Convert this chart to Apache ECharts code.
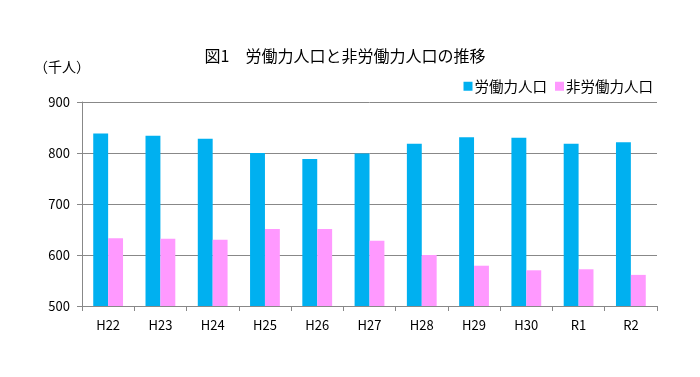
<!DOCTYPE html>
<html>
<head>
<meta charset="utf-8">
<script src="https://cdn.jsdelivr.net/npm/echarts@6/dist/echarts.min.js"></script>
<style>
  html, body { margin: 0; padding: 0; background: #fff; }
  #container { width: 700px; height: 377px; }
</style>
</head>
<body>
<div id="container"></div>
<script>
const years = ['H22', 'H23', 'H24', 'H25', 'H26', 'H27', 'H28', 'H29', 'H30', 'R1', 'R2'];
const labour = [838, 834, 828, 800, 788, 799, 818, 831, 830, 818, 821];
const nonLabour = [633, 632, 630, 651, 651, 628, 600, 579, 570, 572, 561];
const yTicks = [500, 600, 700, 800, 900];

const font = '"Noto Sans CJK JP", "Noto Sans", sans-serif';
const myChart = echarts.init(document.getElementById('container'));
const option = {
    animation: false,
    textStyle: { fontFamily: font },
    color: ['#00B0F0', '#FF99FF'],
    title: [
        {
            text: '図1　労働力人口と非労働力人口の推移',
            left: 340,
            textAlign: 'center',
            top: 43,
            textStyle: { fontSize: 16, fontWeight: 'normal', color: '#000', fontFamily: font }
        },
        {
            text: '（千人）',
            left: 29,
            top: 55,
            textStyle: { fontSize: 14, fontWeight: 'normal', color: '#000', fontFamily: font }
        }
    ],
    legend: {
        right: 42,
        top: 74,
        icon: 'rect',
        itemWidth: 9,
        itemHeight: 9,
        itemGap: 8,
        textStyle: { fontSize: 14.5, color: '#000', padding: [0, 0, 0, -3] },
        data: ['労働力人口', '非労働力人口']
    },
    grid: { left: 82, right: 43, top: 102, bottom: 71 },
    xAxis: {
        type: 'category',
        data: years,
        axisLine: { lineStyle: { color: '#888', width: 1 } },
        axisTick: { show: true, length: 5, lineStyle: { color: '#888' } },
        axisLabel: { color: '#000', fontSize: 13, margin: 13 }
    },
    yAxis: {
        type: 'value',
        min: yTicks[0],
        max: yTicks[yTicks.length - 1],
        interval: 100,
        axisLine: { show: true, lineStyle: { color: '#888', width: 1 } },
        axisTick: { show: true, length: 5, lineStyle: { color: '#888' } },
        axisLabel: { color: '#000', fontSize: 13, margin: 12 },
        splitLine: { lineStyle: { color: '#888', width: 1 } }
    },
    series: [
        {
            name: '労働力人口',
            type: 'bar',
            data: labour,
            barGap: '0%',
            barCategoryGap: '43%'
        },
        {
            name: '非労働力人口',
            type: 'bar',
            data: nonLabour,
            barGap: '0%',
            barCategoryGap: '43%'
        }
    ]
};
myChart.setOption(option);
</script>
</body>
</html>
